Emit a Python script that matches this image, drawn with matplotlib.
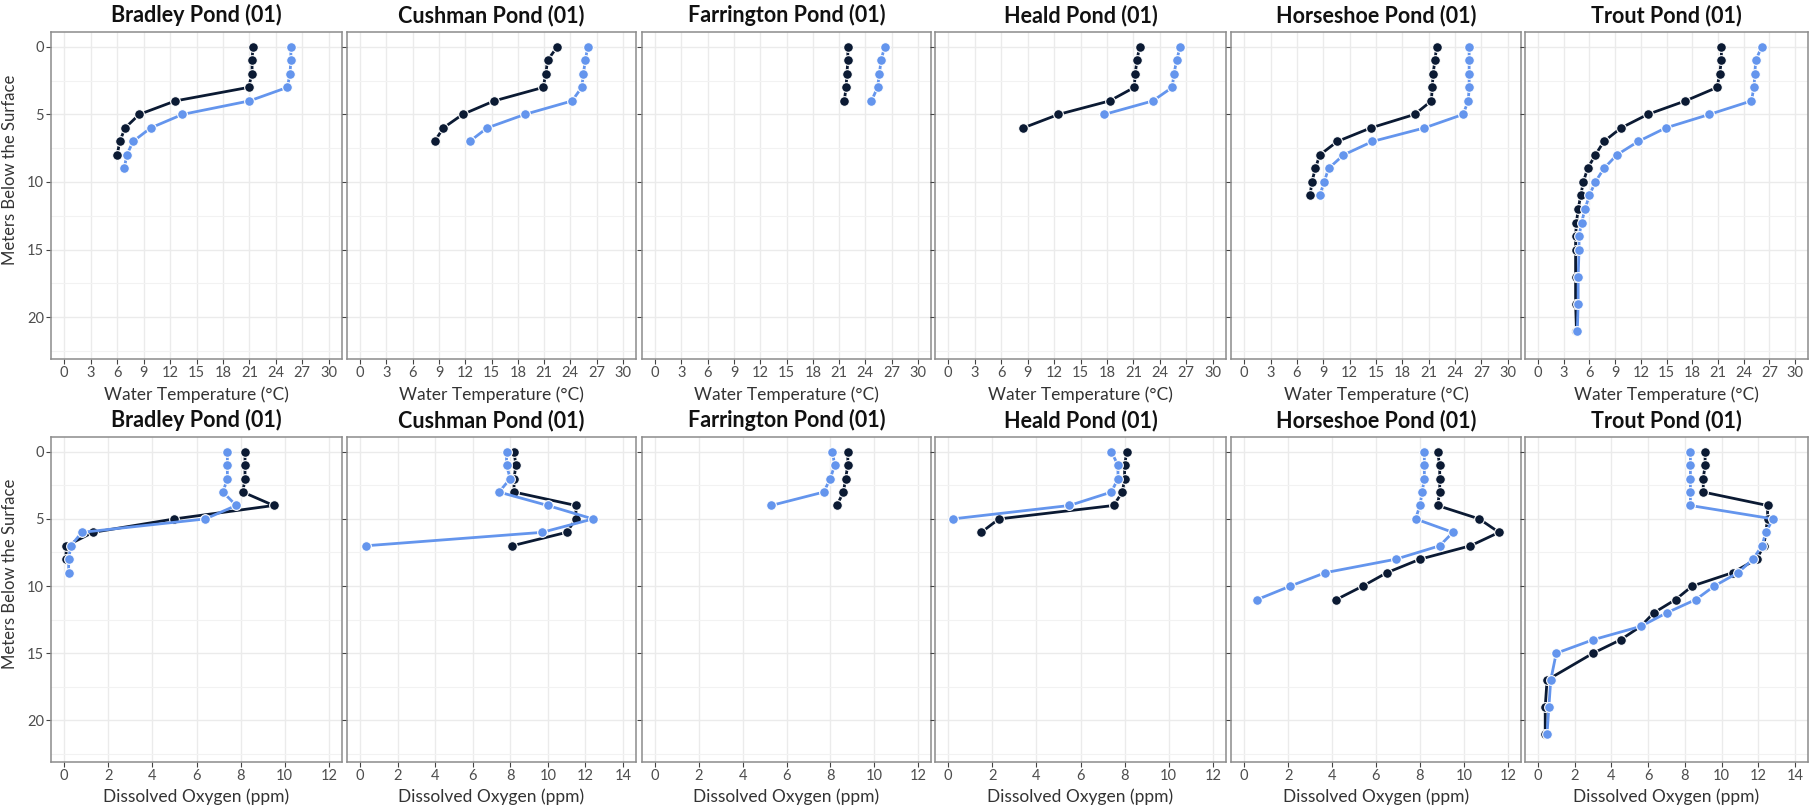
import matplotlib.pyplot as plt
from matplotlib.ticker import MultipleLocator

plt.rcParams['font.family'] = ['Lato', 'DejaVu Sans']

PONDS = ["Bradley Pond (01)", "Cushman Pond (01)", "Farrington Pond (01)",
         "Heald Pond (01)", "Horseshoe Pond (01)", "Trout Pond (01)"]

TROUT_DEPTH = list(range(16)) + [17, 19, 21]
DEPTHS = {
    "Bradley Pond (01)": list(range(10)),
    "Cushman Pond (01)": list(range(8)),
    "Farrington Pond (01)": list(range(5)),
    "Heald Pond (01)": list(range(7)),
    "Horseshoe Pond (01)": list(range(12)),
    "Trout Pond (01)": TROUT_DEPTH,
}

# water temperature, two sampling dates (dark = navy, light = cornflower)
TEMP_DARK = {
    "Bradley Pond (01)": [21.4, 21.3, 21.3, 20.9, 12.6, 8.5, 6.9, 6.3, 6.0],
    "Cushman Pond (01)": [22.5, 21.4, 21.2, 20.9, 15.3, 11.7, 9.5, 8.5],
    "Farrington Pond (01)": [22.0, 22.0, 21.9, 21.8, 21.6],
    "Heald Pond (01)": [21.7, 21.4, 21.2, 21.1, 18.3, 12.5, 8.5],
    "Horseshoe Pond (01)": [21.9, 21.7, 21.5, 21.4, 21.3, 19.4, 14.4, 10.6, 8.6, 8.1, 7.7, 7.5],
    "Trout Pond (01)": [21.4, 21.4, 21.2, 20.9, 17.2, 12.8, 9.7, 7.7, 6.7, 5.8, 5.3, 5.0,
                        4.7, 4.5, 4.4, 4.4, 4.4, 4.4, 4.5],
}
TEMP_LIGHT = {
    "Bradley Pond (01)": [25.7, 25.7, 25.6, 25.3, 21.0, 13.4, 9.8, 7.8, 7.1, 6.8],
    "Cushman Pond (01)": [26.0, 25.7, 25.5, 25.3, 24.2, 18.8, 14.5, 12.5],
    "Farrington Pond (01)": [26.2, 25.8, 25.6, 25.4, 24.7],
    "Heald Pond (01)": [26.3, 25.9, 25.6, 25.4, 23.2, 17.7],
    "Horseshoe Pond (01)": [25.6, 25.6, 25.6, 25.6, 25.5, 24.9, 20.5, 14.6, 11.3, 9.6, 9.1, 8.6],
    "Trout Pond (01)": [26.1, 25.4, 25.3, 25.2, 24.9, 20.0, 14.9, 11.7, 9.2, 7.7, 6.7, 6.0,
                        5.5, 5.1, 4.8, 4.8, 4.7, 4.7, 4.6],
}

# dissolved oxygen
DO_DARK = {
    "Bradley Pond (01)": [8.2, 8.2, 8.2, 8.1, 9.5, 5.0, 1.3, 0.1, 0.07],
    "Cushman Pond (01)": [8.2, 8.3, 8.2, 8.2, 11.5, 11.5, 11.0, 8.1],
    "Farrington Pond (01)": [8.8, 8.8, 8.7, 8.6, 8.3],
    "Heald Pond (01)": [8.1, 8.0, 8.0, 7.9, 7.5, 2.3, 1.5],
    "Horseshoe Pond (01)": [8.8, 8.9, 8.9, 8.9, 8.8, 10.7, 11.6, 10.3, 8.0, 6.5, 5.4, 4.2],
    "Trout Pond (01)": [9.1, 9.1, 9.0, 9.0, 12.5, 12.5, 12.4, 12.3, 11.9, 10.6, 8.4, 7.5,
                        6.3, 5.6, 4.5, 3.0, 0.5, 0.4, 0.4],
}
DO_LIGHT = {
    "Bradley Pond (01)": [7.4, 7.4, 7.4, 7.2, 7.8, 6.4, 0.8, 0.3, 0.2, 0.2],
    "Cushman Pond (01)": [7.8, 7.8, 8.0, 7.4, 10.0, 12.4, 9.7, 0.3],
    "Farrington Pond (01)": [8.1, 8.2, 8.0, 7.7, 5.3],
    "Heald Pond (01)": [7.4, 7.7, 7.7, 7.4, 5.5, 0.2],
    "Horseshoe Pond (01)": [8.2, 8.2, 8.2, 8.1, 8.0, 7.8, 9.5, 8.9, 6.9, 3.7, 2.1, 0.6],
    "Trout Pond (01)": [8.3, 8.3, 8.3, 8.3, 8.3, 12.8, 12.4, 12.2, 11.7, 10.9, 9.6, 8.6,
                        7.0, 5.6, 3.0, 1.0, 0.7, 0.6, 0.5],
}
DO_MAX = {"Bradley Pond (01)": 12, "Cushman Pond (01)": 14, "Farrington Pond (01)": 12,
          "Heald Pond (01)": 12, "Horseshoe Pond (01)": 12, "Trout Pond (01)": 14}

DARK = '#0b1a33'
LIGHT = '#6495ed'

W, H = 1814, 805
fig = plt.figure(figsize=(W / 100, H / 100), dpi=100)

lefts = [51, 347, 642, 935, 1231, 1525]
rights = [342, 636, 931, 1226, 1521, 1808]
rows = [(32, 359), (437, 762)]


def style_axis(ax, first):
    for s in ax.spines.values():
        s.set_color('#8c8c8c')
        s.set_linewidth(1.1)
    ax.set_ylim(23.1, -1.1)
    ax.yaxis.set_major_locator(MultipleLocator(5))
    ax.yaxis.set_minor_locator(MultipleLocator(2.5))
    ax.grid(which='major', color='#ebebeb', lw=1.0)
    ax.grid(which='minor', axis='y', color='#f2f2f2', lw=0.8)
    ax.set_axisbelow(True)
    ax.tick_params(which='major', length=3.5, color='#444444', labelsize=10.5,
                   labelcolor='#4d4d4d', pad=1.5)
    ax.tick_params(which='minor', length=0)
    if not first:
        ax.tick_params(axis='y', labelleft=False)
    else:
        ax.set_ylabel("Meters Below the Surface", fontsize=12, color='#333333')
        ax.yaxis.set_label_coords(-0.115, 0.58)


def draw(ax, depth, dark, light):
    ax.plot(dark, depth[:len(dark)], color=DARK, lw=2, marker='o', ms=7,
            mec='white', mew=0.8, zorder=3)
    ax.plot(light, depth[:len(light)], color=LIGHT, lw=2, marker='o', ms=7,
            mec='white', mew=0.8, zorder=4)


for r, (top, bot) in enumerate(rows):
    for c, pond in enumerate(PONDS):
        ax = fig.add_axes([lefts[c] / W, 1 - bot / H, (rights[c] - lefts[c]) / W, (bot - top) / H])
        style_axis(ax, c == 0)
        d = DEPTHS[pond]
        if r == 0:
            draw(ax, d, TEMP_DARK[pond], TEMP_LIGHT[pond])
            ax.set_xlim(-1.5, 31.5)
            ax.xaxis.set_major_locator(MultipleLocator(3))
            ax.set_xlabel("Water Temperature (°C)", fontsize=12.5, color='#333333', labelpad=5)
        else:
            draw(ax, d, DO_DARK[pond], DO_LIGHT[pond])
            m = DO_MAX[pond]
            ax.set_xlim(-0.05 * m, m * 1.05)
            ax.xaxis.set_major_locator(MultipleLocator(2))
            ax.set_xlabel("Dissolved Oxygen (ppm)", fontsize=12.5, color='#333333', labelpad=4)
        ax.set_title(pond, fontsize=15.5, fontweight='bold', color='#111111', pad=7)

fig.savefig("out.png", dpi=100)
